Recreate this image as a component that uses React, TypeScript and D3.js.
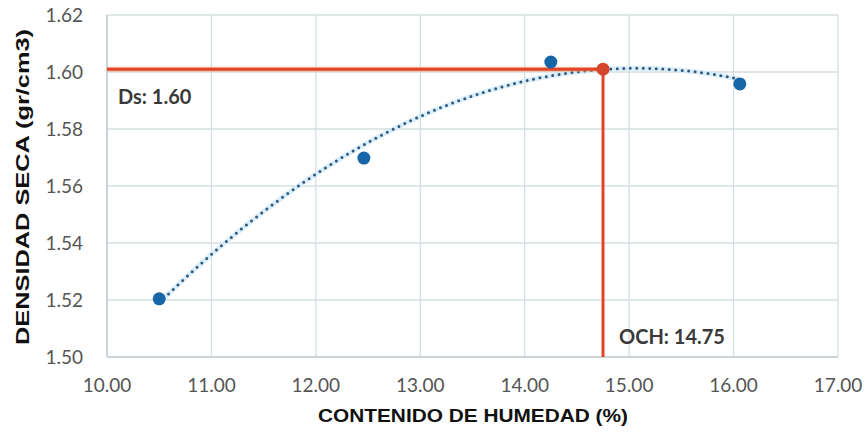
import React from "react";
import * as d3 from "d3";

const humedad = [10.5, 12.46, 14.25, 16.06];
const densidad = [1.5204, 1.5698, 1.6035, 1.5958];
const xTicks = [10, 11, 12, 13, 14, 15, 16, 17];
const yTicks = [1.5, 1.52, 1.54, 1.56, 1.58, 1.6, 1.62];
const och = 14.75;
const ds = 1.601;
const dsLabel = "Ds: 1.60";
const ochLabel = "OCH: 14.75";
const xTitle = "CONTENIDO DE HUMEDAD (%)";
const yTitle = "DENSIDAD SECA (gr/cm3)";

function quadFit(xs: number[], ys: number[]) {
  // least squares y = a + b x + c x^2
  const n = xs.length;
  let s = [0, 0, 0, 0, 0];
  let t = [0, 0, 0];
  for (let i = 0; i < n; i++) {
    const x = xs[i], y = ys[i];
    for (let k = 0; k < 5; k++) s[k] += Math.pow(x, k);
    for (let k = 0; k < 3; k++) t[k] += y * Math.pow(x, k);
  }
  const M = [
    [s[0], s[1], s[2], t[0]],
    [s[1], s[2], s[3], t[1]],
    [s[2], s[3], s[4], t[2]],
  ];
  for (let i = 0; i < 3; i++) {
    let p = i;
    for (let r = i + 1; r < 3; r++) if (Math.abs(M[r][i]) > Math.abs(M[p][i])) p = r;
    [M[i], M[p]] = [M[p], M[i]];
    for (let r = 0; r < 3; r++) {
      if (r === i) continue;
      const f = M[r][i] / M[i][i];
      for (let c = i; c < 4; c++) M[r][c] -= f * M[i][c];
    }
  }
  return [M[0][3] / M[0][0], M[1][3] / M[1][1], M[2][3] / M[2][2]];
}

export default function App() {
  const W = 868, H = 432;
  const x = d3.scaleLinear().domain([10, 17]).range([107, 838]);
  const y = d3.scaleLinear().domain([1.5, 1.62]).range([357, 15]);
  const [a, b, c] = quadFit(humedad, densidad);
  const xs = d3.range(humedad[0], humedad[humedad.length - 1] + 0.001, 0.05);
  const trend = xs.map((v) => [v, a + b * v + c * v * v] as [number, number]);
  const line = d3
    .line<[number, number]>()
    .x((d) => x(d[0]))
    .y((d) => y(d[1]))
    .curve(d3.curveCatmullRom);
  const grid = "#d5dfe2";
  const tickFont = "Lato, 'Open Sans', sans-serif";
  const titleFont = "'Liberation Sans Narrow', 'Arial Narrow', 'Liberation Sans', Arial, sans-serif";
  return (
    <svg
      width={W}
      height={H}
      style={{ position: "absolute", left: 0, top: 0, background: "#fff" }}
    >
      {/* grid */}
      {xTicks.map((t) => (
        <line key={"gx" + t} x1={x(t)} x2={x(t)} y1={y(1.62)} y2={y(1.5)} stroke={grid} strokeWidth={1.3} />
      ))}
      {yTicks.map((t) => (
        <line key={"gy" + t} x1={x(10)} x2={x(17)} y1={y(t)} y2={y(t)} stroke={grid} strokeWidth={1.3} />
      ))}
      <line x1={x(10)} x2={x(10)} y1={y(1.62)} y2={y(1.5)} stroke="#c4cfd2" strokeWidth={1.6} />
      <line x1={x(10)} x2={x(17)} y1={y(1.5)} y2={y(1.5)} stroke="#c4cfd2" strokeWidth={1.6} />

      {/* tick labels */}
      {yTicks.map((t) => (
        <text key={"ty" + t} x={83} y={y(t)} dy="0.35em" textAnchor="end" fontFamily={tickFont} fontSize={19} fill="#555">
          {t.toFixed(2)}
        </text>
      ))}
      {xTicks.map((t) => (
        <text key={"tx" + t} x={x(t)} y={385} dy="0.35em" textAnchor="middle" fontFamily={tickFont} fontSize={19} fill="#555">
          {t.toFixed(2)}
        </text>
      ))}

      {/* titles */}
      <text x={473} y={415} dy="0.35em" textAnchor="middle" fontFamily={titleFont} fontWeight="bold" fontSize={19} fill="#111" textLength={310} lengthAdjust="spacingAndGlyphs">
        {xTitle}
      </text>
      <text transform={`translate(22,187) rotate(-90)`} dy="0.35em" textAnchor="middle" fontFamily={titleFont} fontWeight="bold" fontSize={19} fill="#111" textLength={316} lengthAdjust="spacingAndGlyphs">
        {yTitle}
      </text>

      {/* trendline */}
      <path d={line(trend) || ""} fill="none" stroke="#d3eaf7" strokeWidth={5} strokeLinecap="round" opacity={0.8} />
      <path d={line(trend) || ""} fill="none" stroke="#2d5a80" strokeWidth={3} strokeDasharray="0 6.5" strokeLinecap="round" />

      {/* red lines */}
      <line x1={x(10)} x2={x(och)} y1={y(ds)} y2={y(ds)} stroke="#f2a06a" strokeWidth={5} opacity={0.6} />
      <line x1={x(10)} x2={x(och)} y1={y(ds)} y2={y(ds)} stroke="#e2442a" strokeWidth={3} />
      <line x1={x(och)} x2={x(och)} y1={y(ds)} y2={y(1.5)} stroke="#e2442a" strokeWidth={3} />

      {/* points */}
      {humedad.map((h, i) => (
        <circle key={"p" + i} cx={x(h)} cy={y(densidad[i])} r={6.5} fill="#1766a8" />
      ))}
      <circle cx={x(och)} cy={y(ds)} r={6.5} fill="#d5452c" />

      {/* labels */}
      <text x={118} y={97} dy="0.35em" fontFamily={tickFont} fontWeight="bold" fontSize={20} fill="#3a3a3a">
        {dsLabel}
      </text>
      <text x={619} y={337} dy="0.35em" fontFamily={tickFont} fontWeight="bold" fontSize={20} fill="#3a3a3a">
        {ochLabel}
      </text>
    </svg>
  );
}
